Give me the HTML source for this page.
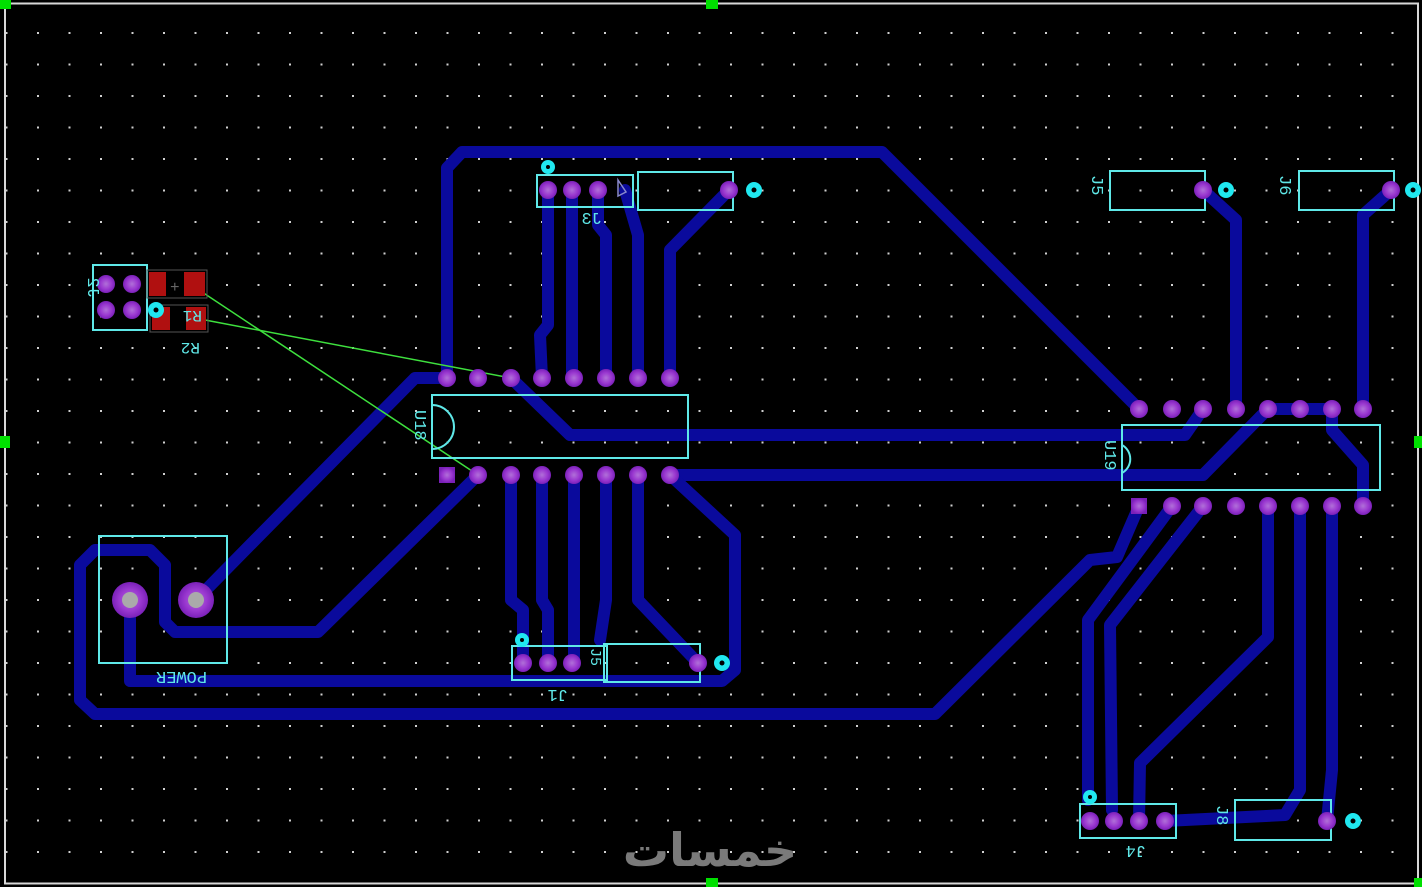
<!DOCTYPE html>
<html><head><meta charset="utf-8"><style>
html,body{margin:0;padding:0;background:#000;}
svg{display:block;}
text{font-family:"Liberation Mono",monospace;fill:#5fe8e8;}
</style></head><body>
<svg width="1422" height="887" viewBox="0 0 1422 887" xmlns="http://www.w3.org/2000/svg">
<defs>
<pattern id="g" x="37" y="32" width="31.5" height="31.5" patternUnits="userSpaceOnUse">
<rect x="0" y="0" width="2" height="2" fill="#d0d0d0"/>
</pattern>
<radialGradient id="pad"><stop offset="0" stop-color="#b070d8"/><stop offset="0.6" stop-color="#9a38d0"/><stop offset="1" stop-color="#7a20b8"/></radialGradient>
</defs>
<rect width="1422" height="887" fill="#000"/>
<rect x="6" y="4" width="1412" height="879" fill="url(#g)"/>
<!-- frame -->
<rect x="5" y="3.5" width="1413" height="880" fill="none" stroke="#d8d8d8" stroke-width="2"/>
<g fill="#00e000">
<rect x="0" y="0" width="11" height="9"/><rect x="706" y="0" width="12" height="9"/>
<rect x="0" y="436" width="10" height="12"/><rect x="1414" y="436" width="8" height="12"/>
<rect x="706" y="878" width="12" height="9"/><rect x="1414" y="878" width="8" height="9"/>
</g>

<!-- traces -->
<g fill="none" stroke="#0a0a9c" stroke-width="12" stroke-linejoin="round" stroke-linecap="round">
<polyline points="447,378 447,168 462,152 882,152 1139,409"/>
<polyline points="548,190 548,325 540,335 542,378"/>
<polyline points="572,190 572,378"/>
<polyline points="598,190 598,225 606,235 606,378"/>
<polyline points="625,190 638,235 638,378"/>
<polyline points="729,190 670,250 670,378"/>
<polyline points="511,378 570,435 1185,435 1203,409"/>
<polyline points="670,475 1203,475 1268,409"/>
<polyline points="1268,409 1332,409 1332,430 1363,465 1363,506"/>
<polyline points="1203,190 1236,220 1236,409"/>
<polyline points="1391,190 1363,215 1363,409"/>
<polyline points="447,378 415,378 255,540 196,600"/>
<polyline points="478,475 318,632 175,632 165,622 165,565 150,550 95,550 80,565 80,700 95,714 935,714 1090,560 1117,557 1139,506"/>
<polyline points="1172,506 1088,620 1088,800"/>
<polyline points="1203,506 1110,625 1112,810"/>
<polyline points="1268,506 1268,637 1140,763 1139,821"/>
<polyline points="1300,506 1300,790 1285,815 1165,821"/>
<polyline points="1332,506 1332,770 1327,821"/>
<polyline points="511,475 511,600 523,610 523,663"/>
<polyline points="542,475 542,600 548,610 548,663"/>
<polyline points="574,475 574,663"/>
<polyline points="606,475 606,600 600,640"/>
<polyline points="638,475 638,600 698,663"/>
<polyline points="670,475 735,535 735,670 722,681 130,681 130,600"/>
</g>

<!-- ratsnest -->
<g stroke="#3ee03e" stroke-width="1.5" fill="none">
<line x1="196" y1="288" x2="478" y2="475"/>
<line x1="205" y1="320" x2="511" y2="378"/>
</g>

<!-- silkscreen boxes -->
<g fill="none" stroke="#5fe8e8" stroke-width="2">
<rect x="432" y="395" width="256" height="63"/>
<path d="M432,405 a16,16 0 0 1 0,44" />
<rect x="1122" y="425" width="258" height="65"/>
<path d="M1122,445 a16,16 0 0 1 0,28"/>
<rect x="537" y="175" width="96" height="32"/>
<rect x="638" y="172" width="95" height="38"/>
<rect x="1110" y="171" width="95" height="39"/>
<rect x="1299" y="171" width="95" height="39"/>
<rect x="93" y="265" width="54" height="65"/>
<rect x="99" y="536" width="128" height="127"/>
<rect x="512" y="646" width="95" height="34"/>
<rect x="604" y="644" width="96" height="38"/>
<rect x="1080" y="804" width="96" height="34"/>
<rect x="1235" y="800" width="96" height="40"/>
</g>

<!-- R pads -->
<g fill="#b01010">
<rect x="149" y="272" width="17" height="24"/><rect x="184" y="272" width="21" height="24"/>
<rect x="152" y="307" width="18" height="23"/><rect x="186" y="307" width="20" height="23"/>
</g>
<rect x="147" y="270" width="60" height="28" fill="none" stroke="#555" stroke-width="1"/>
<rect x="150" y="305" width="58" height="27" fill="none" stroke="#555" stroke-width="1"/>
<text x="170" y="292" font-size="16" style="fill:#666">+</text>

<!-- pads -->
<g fill="url(#pad)">
<circle cx="447" cy="378" r="9"/><circle cx="478" cy="378" r="9"/><circle cx="511" cy="378" r="9"/><circle cx="542" cy="378" r="9"/><circle cx="574" cy="378" r="9"/><circle cx="606" cy="378" r="9"/><circle cx="638" cy="378" r="9"/><circle cx="670" cy="378" r="9"/>
<rect x="439" y="467" width="16" height="16"/><circle cx="478" cy="475" r="9"/><circle cx="511" cy="475" r="9"/><circle cx="542" cy="475" r="9"/><circle cx="574" cy="475" r="9"/><circle cx="606" cy="475" r="9"/><circle cx="638" cy="475" r="9"/><circle cx="670" cy="475" r="9"/>
<circle cx="1139" cy="409" r="9"/><circle cx="1172" cy="409" r="9"/><circle cx="1203" cy="409" r="9"/><circle cx="1236" cy="409" r="9"/><circle cx="1268" cy="409" r="9"/><circle cx="1300" cy="409" r="9"/><circle cx="1332" cy="409" r="9"/><circle cx="1363" cy="409" r="9"/>
<rect x="1131" y="498" width="16" height="16"/><circle cx="1172" cy="506" r="9"/><circle cx="1203" cy="506" r="9"/><circle cx="1236" cy="506" r="9"/><circle cx="1268" cy="506" r="9"/><circle cx="1300" cy="506" r="9"/><circle cx="1332" cy="506" r="9"/><circle cx="1363" cy="506" r="9"/>
<circle cx="548" cy="190" r="9"/><circle cx="572" cy="190" r="9"/><circle cx="598" cy="190" r="9"/><circle cx="729" cy="190" r="9"/>
<circle cx="1203" cy="190" r="9"/><circle cx="1391" cy="190" r="9"/>
<circle cx="106" cy="284" r="9"/><circle cx="132" cy="284" r="9"/><circle cx="106" cy="310" r="9"/><circle cx="132" cy="310" r="9"/>
<circle cx="523" cy="663" r="9"/><circle cx="548" cy="663" r="9"/><circle cx="572" cy="663" r="9"/><circle cx="698" cy="663" r="9"/>
<circle cx="1090" cy="821" r="9"/><circle cx="1114" cy="821" r="9"/><circle cx="1139" cy="821" r="9"/><circle cx="1165" cy="821" r="9"/>
<circle cx="1327" cy="821" r="9"/>
<circle cx="130" cy="600" r="18"/><circle cx="196" cy="600" r="18"/>
</g>
<circle cx="130" cy="600" r="8" fill="#aaa"/><circle cx="196" cy="600" r="8" fill="#aaa"/>
<path d="M618,180 l8,12 l-8,4 z" fill="none" stroke="#8888cc" stroke-width="1.5"/>

<!-- cyan vias -->
<g fill="#20e8f0">
<circle cx="754" cy="190" r="8"/><circle cx="1226" cy="190" r="8"/><circle cx="1413" cy="190" r="8"/>
<circle cx="548" cy="167" r="7"/><circle cx="156" cy="310" r="8"/><circle cx="522" cy="640" r="7"/>
<circle cx="722" cy="663" r="8"/><circle cx="1090" cy="797" r="7"/><circle cx="1353" cy="821" r="8"/>
</g>
<g fill="#000">
<circle cx="754" cy="190" r="2.5"/><circle cx="1226" cy="190" r="2.5"/><circle cx="1413" cy="190" r="2.5"/>
<circle cx="548" cy="167" r="2"/><circle cx="156" cy="310" r="2.5"/><circle cx="522" cy="640" r="2"/>
<circle cx="722" cy="663" r="2.5"/><circle cx="1090" cy="797" r="2"/><circle cx="1353" cy="821" r="2.5"/>
</g>

<!-- labels (mirrored) -->
<g font-size="17">
<text transform="translate(602,224) scale(-1,1)">J3</text>
<text transform="translate(200,343) scale(-1,-1)" font-size="16">R2</text>
<text transform="translate(202,311) scale(-1,-1)" font-size="16">R1</text>
<text transform="translate(88,298) rotate(90) scale(-1,1)">J2</text>
<text transform="translate(415,410) rotate(90)" font-size="17">U18</text>
<text transform="translate(1105,440) rotate(90)">U19</text>
<text transform="translate(1092,175) rotate(90)">J5</text>
<text transform="translate(1280,175) rotate(90)">J6</text>
<text transform="translate(207,672) scale(-1,-1)" font-size="17">POWER</text>
<text transform="translate(568,690) scale(-1,-1)">J1</text>
<text transform="translate(591,648) rotate(90)" font-size="15">J5</text>
<text transform="translate(1146,846) scale(-1,-1)">J4</text>
<text transform="translate(1217,805) rotate(90)">J8</text>
</g>

<!-- watermark -->
<text x="710" y="866" text-anchor="middle" font-size="46" style="fill:#7a7a7a;font-family:'DejaVu Sans',sans-serif;font-weight:bold">خمسات</text>
</svg>
</body></html>
